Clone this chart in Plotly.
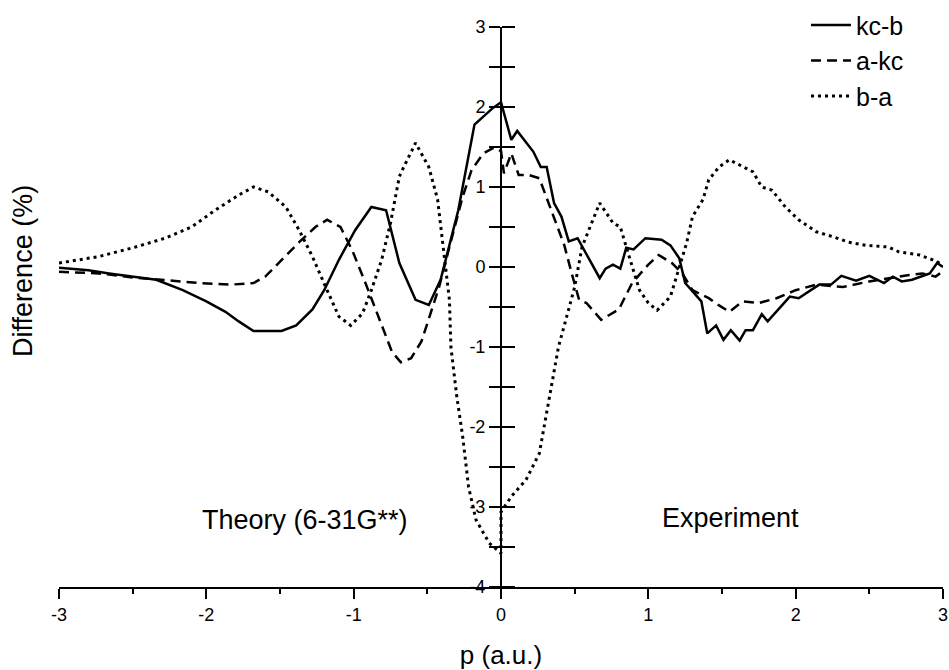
import plotly.graph_objects as go

# ---- data ----
p_kcb = [-3.0, -2.8, -2.66, -2.46, -2.34, -2.16, -2.0, -1.87, -1.78, -1.68, -1.49, -1.39,
         -1.28, -1.2, -1.1, -0.99, -0.88, -0.78, -0.69, -0.58, -0.49, -0.41, -0.37, -0.29,
         -0.18, -0.06, 0.0,
         0.07, 0.11, 0.22, 0.27, 0.31, 0.36, 0.41, 0.46, 0.52, 0.67, 0.71, 0.76, 0.81, 0.85,
         0.90, 0.98, 1.09, 1.15, 1.21, 1.25, 1.36, 1.40, 1.46, 1.51, 1.56, 1.62, 1.66, 1.71,
         1.77, 1.81, 1.96, 2.02, 2.16, 2.24, 2.31, 2.41, 2.50, 2.60, 2.66, 2.72, 2.79, 2.91,
         2.96, 3.0]
v_kcb = [-0.01, -0.04, -0.08, -0.13, -0.16, -0.29, -0.43, -0.56, -0.68, -0.80, -0.80, -0.73,
         -0.53, -0.29, 0.09, 0.46, 0.75, 0.71, 0.05, -0.41, -0.475, -0.16, 0.13, 0.71,
         1.78, 1.98, 2.06,
         1.59, 1.70, 1.44, 1.25, 1.25, 0.80, 0.63, 0.32, 0.36, -0.14, -0.02, 0.03, -0.02, 0.24,
         0.22, 0.36, 0.34, 0.27, 0.11, -0.20, -0.43, -0.83, -0.73, -0.91, -0.79, -0.92, -0.79, -0.79,
         -0.59, -0.68, -0.37, -0.39, -0.22, -0.22, -0.11, -0.17, -0.11, -0.20, -0.12, -0.18, -0.16, -0.08,
         0.05, 0.0]

p_akc = [-3.0, -2.73, -2.50, -2.28, -2.05, -1.83, -1.68, -1.60, -1.49, -1.37, -1.26, -1.18,
         -1.09, -1.01, -0.92, -0.83, -0.74, -0.68, -0.61, -0.54, -0.47, -0.42, -0.35, -0.26,
         -0.20, -0.12, -0.05, 0.0,
         0.02, 0.07, 0.12, 0.19, 0.26, 0.35, 0.43, 0.48, 0.53, 0.58, 0.68, 0.80, 0.89, 1.0,
         1.07, 1.16, 1.23, 1.30, 1.41, 1.48, 1.55, 1.64, 1.75, 1.87, 2.0, 2.14, 2.32, 2.50,
         2.63, 2.77, 2.86, 2.95, 3.0]
v_akc = [-0.06, -0.08, -0.13, -0.16, -0.20, -0.22, -0.20, -0.12, 0.09, 0.31, 0.50, 0.59,
         0.50, 0.21, -0.20, -0.62, -1.06, -1.19, -1.14, -0.93, -0.54, -0.25, 0.25, 0.88,
         1.21, 1.42, 1.49, 1.45,
         1.17, 1.42, 1.15, 1.15, 1.11, 0.67, 0.27, -0.08, -0.41, -0.45, -0.66, -0.53, -0.20, 0.03,
         0.15, 0.05, -0.08, -0.29, -0.39, -0.48, -0.56, -0.43, -0.45, -0.39, -0.29, -0.22, -0.25, -0.18,
         -0.14, -0.10, -0.08, -0.12, -0.05]

p_ba = [-3.0, -2.73, -2.50, -2.28, -2.10, -1.94, -1.78, -1.68, -1.58, -1.46, -1.37, -1.28,
        -1.19, -1.10, -1.02, -0.94, -0.88, -0.81, -0.75, -0.69, -0.66, -0.58, -0.49, -0.43,
        -0.39, -0.35, -0.34, -0.30, -0.26, -0.22, -0.17, -0.08, 0.0,
        0.0, 0.07, 0.17, 0.26, 0.30, 0.34, 0.39, 0.44, 0.50, 0.55, 0.67, 0.76, 0.81, 0.87,
        0.94, 1.0, 1.06, 1.15, 1.21, 1.26, 1.30, 1.37, 1.41, 1.48, 1.55, 1.64, 1.71, 1.77,
        1.84, 1.93, 2.02, 2.14, 2.25, 2.36, 2.48, 2.63, 2.70, 2.84, 2.93, 3.0]
v_ba = [0.05, 0.13, 0.24, 0.36, 0.50, 0.71, 0.90, 1.0, 0.94, 0.75, 0.46, 0.13,
        -0.25, -0.62, -0.73, -0.58, -0.29, 0.09, 0.55, 1.13, 1.25, 1.55, 1.25, 0.84,
        0.21, -0.41, -1.0, -1.62, -2.12, -2.75, -3.16, -3.45, -3.58,
        -3.06, -2.87, -2.66, -2.33, -1.91, -1.50, -1.0, -0.66, -0.25, 0.25, 0.80, 0.55, 0.50, 0.13,
        -0.29, -0.45, -0.54, -0.37, 0.0, 0.30, 0.63, 0.84, 1.09, 1.25, 1.34, 1.25, 1.19, 1.0,
        0.96, 0.75, 0.59, 0.44, 0.38, 0.31, 0.27, 0.25, 0.19, 0.15, 0.09, 0.03]

series_names = ["kc-b", "a-kc", "b-a"]
x_ticks = [-3, -2, -1, 0, 1, 2, 3]
x_tick_text = ["-3", "-2", "-1", "0", "1", "2", "3"]
y_ticks = [-4, -3, -2, -1, 0, 1, 2, 3]
y_tick_text = ["-4", "-3", "-2", "-1", "0", "1", "2", "3"]

FONT = "Liberation Sans, Arial, Helvetica, sans-serif"

fig = go.Figure()
fig.add_trace(go.Scatter(x=p_kcb, y=v_kcb, mode="lines", name=series_names[0],
                         line=dict(color="black", width=2.5, dash="solid")))
fig.add_trace(go.Scatter(x=p_akc, y=v_akc, mode="lines", name=series_names[1],
                         line=dict(color="black", width=2.5, dash="10px,6px")))
fig.add_trace(go.Scatter(x=p_ba, y=v_ba, mode="lines", name=series_names[2],
                         line=dict(color="black", width=3, dash="3px,4px")))
# empty trace to register the overlay axis that carries the right-hand half of the ticks
fig.add_trace(go.Scatter(x=[], y=[], yaxis="y2", showlegend=False, hoverinfo="skip"))

fig.update_layout(
    width=949, height=670,
    margin=dict(l=59, r=6, t=27, b=83, autoexpand=False),
    paper_bgcolor="white", plot_bgcolor="white",
    font=dict(family=FONT, color="black", size=18),
    xaxis=dict(range=[-3, 3], tickvals=x_ticks, ticktext=x_tick_text, ticks="outside",
               ticklen=10, tickwidth=2,
               tickcolor="black", showline=True, linewidth=2, linecolor="black",
               showgrid=False, zeroline=False, tickfont=dict(size=18),
               minor=dict(dtick=0.5, ticks="outside", ticklen=5, tickwidth=2, tickcolor="black"),
               title=dict(text="p (a.u.)", font=dict(size=26), standoff=23),
               automargin=False),
    yaxis=dict(range=[-4, 3], tickvals=y_ticks, ticktext=y_tick_text, ticks="outside",
               ticklen=11, tickwidth=2,
               tickcolor="black", showline=True, linewidth=2, linecolor="black",
               anchor="free", position=0.5, showgrid=False, zeroline=False,
               tickfont=dict(size=18),
               minor=dict(dtick=0.5, ticks="outside", ticklen=11, tickwidth=2, tickcolor="black"),
               automargin=False),
    yaxis2=dict(range=[-4, 3], overlaying="y", anchor="free", position=0.5, side="right",
                tickvals=y_ticks, ticks="outside", ticklen=13, tickwidth=2, tickcolor="black",
                showticklabels=False, showline=False, showgrid=False, zeroline=False,
                minor=dict(dtick=0.5, ticks="outside", ticklen=13, tickwidth=2, tickcolor="black"),
                automargin=False),
    legend=dict(x=0.845, y=1.044, xanchor="left", yanchor="top", bgcolor="rgba(0,0,0,0)",
                font=dict(size=25), itemwidth=40, tracegroupgap=0),
    showlegend=True,
    annotations=[
        dict(text="Difference (%)", xref="paper", yref="paper", x=-0.041, y=0.564,
             textangle=-90, showarrow=False, xanchor="center", yanchor="middle",
             font=dict(size=27)),
        dict(text="Theory (6-31G**)", xref="x", yref="y", x=-1.33, y=-3.16,
             showarrow=False, xanchor="center", yanchor="middle", font=dict(size=27)),
        dict(text="Experiment", xref="x", yref="y", x=1.555, y=-3.14,
             showarrow=False, xanchor="center", yanchor="middle", font=dict(size=27)),
    ],
)

# remove the default page margin so the 949x670 figure fills the window exactly
fig.write_html("out.html",
               config={"displayModeBar": False},
               post_script="document.body.style.margin='0';"
                           "document.body.style.overflow='hidden';")
